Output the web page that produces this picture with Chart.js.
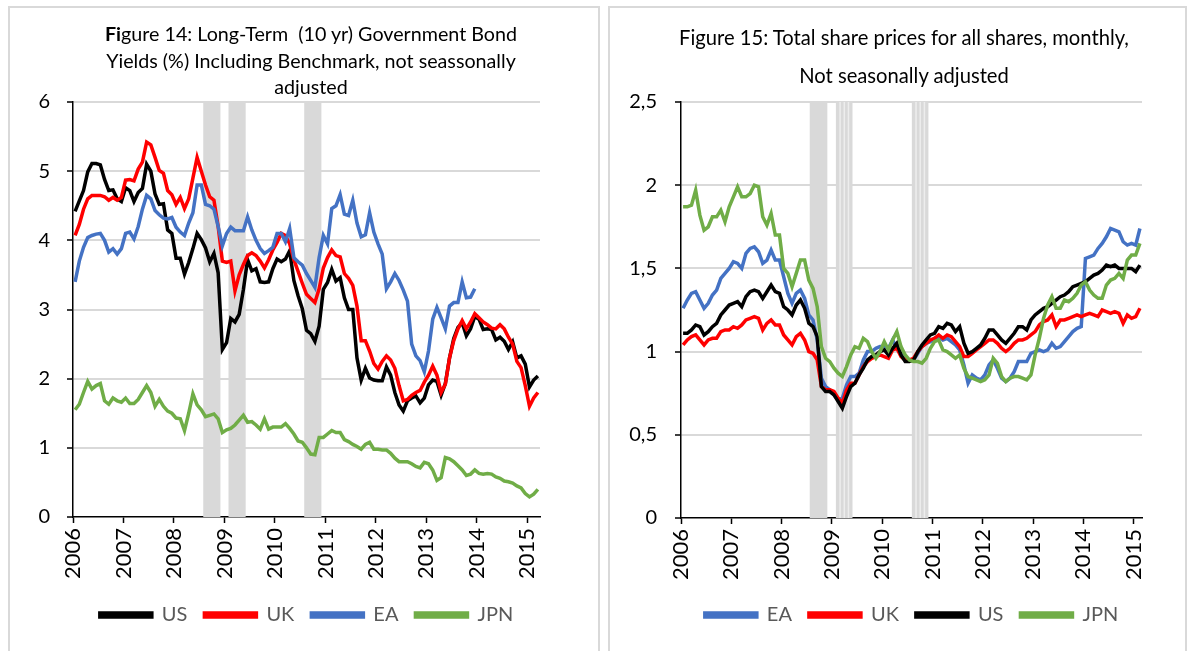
<!DOCTYPE html>
<html>
<head>
<meta charset="utf-8">
<script src="https://cdn.jsdelivr.net/npm/chart.js@4.4.1/dist/chart.umd.min.js"></script>
<style>
  body { margin: 0; width: 1190px; height: 651px; overflow: hidden; position: relative; background: #fff; font-family: Lato, sans-serif; }
  .panel { position: absolute; border: 2px solid #d9d9d9; box-sizing: border-box; }
  .box { position: absolute; top: 0; height: 651px; }
  .title { position: absolute; text-align: center; color: #000; white-space: pre; }
</style>
</head>
<body>
<div class="panel" style="left:8px; top:6px; width:592px; height:700px"></div>
<div class="panel" style="left:608px; top:6px; width:579px; height:700px"></div>
<div class="box" style="left:0; width:600px"><canvas id="bonds"></canvas></div>
<div class="box" style="left:600px; width:590px"><canvas id="shares"></canvas></div>
<div class="title" style="left:61px; top:21px; width:500px; line-height:26.5px; font-size:19.7px"><b>Fi</b>gure 14: Long-Term  (10 yr) Government Bond
Yields (%) Including Benchmark, not seassonally
adjusted</div>
<div class="title" style="left:654px; top:18px; width:500px; line-height:38px; font-size:20.2px">Figure 15: Total share prices for all shares, monthly,
Not seasonally adjusted</div>
<script>
// monthly data, Jan 2006 onwards
const startYear = 2006;
const yearTicks = [2006, 2007, 2008, 2009, 2010, 2011, 2012, 2013, 2014, 2015];

// Figure 14: 10 yr government bond yields (%), Jan 2006 - Mar 2015
const usYield = [4.42,4.57,4.72,4.99,5.11,5.11,5.09,4.88,4.72,4.73,4.60,4.56,
  4.76,4.72,4.56,4.69,4.75,5.10,5.00,4.67,4.52,4.53,4.15,4.10,
  3.74,3.74,3.51,3.68,3.88,4.10,4.01,3.89,3.69,3.81,3.53,2.42,
  2.52,2.87,2.82,2.93,3.29,3.72,3.56,3.59,3.40,3.39,3.40,3.59,
  3.73,3.69,3.73,3.85,3.42,3.20,3.01,2.70,2.65,2.54,2.76,3.29,
  3.39,3.58,3.41,3.46,3.17,3.00,3.00,2.30,1.98,2.15,2.01,1.98,
  1.97,1.97,2.17,2.05,1.80,1.62,1.53,1.68,1.72,1.75,1.65,1.72,
  1.91,1.98,1.96,1.76,1.93,2.30,2.58,2.74,2.81,2.62,2.72,2.90,
  2.86,2.71,2.72,2.71,2.56,2.60,2.54,2.42,2.53,2.30,2.33,2.21,
  1.88,1.98,2.04];
const ukYield = [4.07,4.23,4.45,4.60,4.65,4.65,4.65,4.63,4.58,4.62,4.58,4.62,
  4.87,4.88,4.86,5.03,5.13,5.42,5.38,5.20,5.01,4.97,4.72,4.66,
  4.52,4.62,4.46,4.60,4.90,5.20,5.00,4.80,4.63,4.58,4.20,3.70,
  3.68,3.70,3.27,3.50,3.65,3.78,3.82,3.78,3.70,3.60,3.72,3.86,
  3.97,4.10,4.07,3.95,3.72,3.55,3.38,3.22,3.16,3.10,3.30,3.60,
  3.75,3.86,3.78,3.76,3.52,3.45,3.35,3.05,2.55,2.55,2.40,2.22,
  2.14,2.25,2.33,2.27,2.15,1.90,1.68,1.70,1.76,1.80,1.83,1.95,
  2.05,2.18,2.05,1.80,1.92,2.30,2.55,2.72,2.84,2.72,2.82,2.94,
  2.88,2.82,2.78,2.73,2.72,2.78,2.72,2.60,2.50,2.25,2.16,1.90,
  1.60,1.72,1.80];
const eaYield = [3.40,3.70,3.90,4.04,4.07,4.09,4.10,4.00,3.83,3.88,3.80,3.88,
  4.10,4.12,4.02,4.20,4.45,4.65,4.60,4.43,4.37,4.32,4.31,4.33,
  4.19,4.12,4.07,4.25,4.40,4.80,4.80,4.52,4.50,4.45,4.20,3.92,
  4.10,4.19,4.14,4.14,4.14,4.34,4.15,4.00,3.88,3.81,3.85,3.90,
  4.10,4.10,3.98,4.17,3.75,3.69,3.64,3.52,3.42,3.32,3.75,4.07,
  3.95,4.46,4.50,4.66,4.38,4.36,4.58,4.25,4.05,4.08,4.40,4.12,
  3.95,3.80,3.30,3.40,3.52,3.42,3.28,3.12,2.50,2.33,2.26,2.10,
  2.40,2.86,3.03,2.88,2.72,3.05,3.10,3.10,3.40,3.17,3.18,3.30,
  null,null,null,null,null,null,null,null,null,null,null,null,
  null,null,null];
const jpnYield = [1.55,1.63,1.80,1.96,1.85,1.90,1.93,1.68,1.63,1.72,1.68,1.66,
  1.72,1.64,1.64,1.70,1.80,1.90,1.80,1.60,1.70,1.60,1.53,1.50,
  1.43,1.42,1.25,1.50,1.78,1.62,1.55,1.45,1.47,1.49,1.42,1.22,
  1.26,1.28,1.33,1.40,1.47,1.37,1.38,1.33,1.27,1.42,1.27,1.30,
  1.30,1.30,1.35,1.28,1.20,1.10,1.08,1.00,0.91,0.90,1.15,1.15,
  1.20,1.25,1.22,1.22,1.12,1.09,1.05,1.02,0.98,1.05,1.08,0.98,
  0.98,0.97,0.97,0.92,0.85,0.80,0.80,0.80,0.77,0.73,0.71,0.79,
  0.77,0.68,0.53,0.57,0.86,0.84,0.80,0.74,0.68,0.60,0.62,0.68,
  0.63,0.62,0.63,0.62,0.58,0.56,0.52,0.51,0.49,0.45,0.42,0.34,
  0.29,0.33,0.40];

// Figure 15: total share prices, Jan 2006 - Feb 2015
const eaShares = [1.26,1.31,1.35,1.36,1.31,1.26,1.29,1.34,1.37,1.44,1.47,1.50,
  1.54,1.53,1.50,1.59,1.62,1.63,1.60,1.53,1.55,1.61,1.55,1.55,
  1.45,1.35,1.29,1.35,1.37,1.32,1.22,1.19,1.07,0.84,0.79,0.77,
  0.74,0.71,0.72,0.80,0.85,0.85,0.87,0.95,1.00,1.00,1.02,1.03,
  1.03,1.02,1.07,1.02,0.99,0.96,0.95,0.95,0.99,1.03,1.05,1.06,
  1.08,1.09,1.07,1.08,1.06,1.04,1.01,0.92,0.81,0.86,0.84,0.83,
  0.86,0.92,0.95,0.90,0.84,0.82,0.84,0.88,0.94,0.94,0.94,0.99,
  1.00,1.01,1.00,1.01,1.05,1.02,1.03,1.06,1.09,1.12,1.14,1.15,
  1.56,1.57,1.58,1.62,1.65,1.69,1.74,1.73,1.72,1.66,1.64,1.65,
  1.64,1.74];
const ukShares = [1.04,1.07,1.09,1.10,1.07,1.04,1.07,1.08,1.08,1.12,1.13,1.13,
  1.15,1.14,1.16,1.19,1.20,1.21,1.20,1.13,1.17,1.19,1.16,1.16,
  1.10,1.07,1.04,1.09,1.11,1.07,1.00,0.99,0.95,0.79,0.77,0.77,
  0.76,0.72,0.69,0.77,0.81,0.81,0.86,0.91,0.94,0.96,0.97,0.98,
  0.97,0.96,1.01,1.02,0.97,0.95,0.95,0.96,1.00,1.03,1.05,1.07,
  1.08,1.10,1.08,1.10,1.09,1.06,1.03,0.97,0.97,0.99,1.01,1.03,
  1.05,1.07,1.07,1.05,1.02,1.00,1.02,1.05,1.07,1.07,1.08,1.10,
  1.12,1.16,1.18,1.19,1.22,1.15,1.19,1.19,1.20,1.21,1.22,1.21,
  1.22,1.23,1.22,1.21,1.25,1.24,1.23,1.24,1.23,1.17,1.22,1.20,
  1.21,1.26];
const usShares = [1.11,1.11,1.13,1.16,1.15,1.10,1.12,1.15,1.17,1.22,1.25,1.28,
  1.29,1.30,1.27,1.33,1.36,1.37,1.36,1.32,1.36,1.40,1.36,1.35,
  1.27,1.25,1.22,1.28,1.31,1.26,1.17,1.15,1.09,0.79,0.76,0.76,
  0.74,0.70,0.66,0.73,0.79,0.81,0.86,0.90,0.95,0.97,0.98,1.00,
  1.01,0.98,1.02,1.05,0.98,0.94,0.94,0.95,1.00,1.04,1.07,1.10,
  1.11,1.15,1.14,1.17,1.16,1.12,1.15,1.05,0.99,1.00,1.02,1.04,
  1.08,1.13,1.13,1.10,1.07,1.05,1.08,1.11,1.15,1.15,1.13,1.19,
  1.22,1.24,1.26,1.27,1.29,1.31,1.33,1.34,1.36,1.39,1.40,1.41,
  1.42,1.44,1.46,1.47,1.49,1.52,1.51,1.52,1.50,1.50,1.50,1.50,
  1.48,1.52];
const jpnShares = [1.87,1.87,1.88,1.97,1.82,1.73,1.75,1.81,1.81,1.85,1.78,1.87,
  1.93,1.99,1.93,1.93,1.95,2.00,1.99,1.81,1.76,1.83,1.70,1.70,
  1.50,1.47,1.39,1.47,1.55,1.55,1.43,1.38,1.27,1.03,0.96,0.94,
  0.90,0.87,0.85,0.91,0.98,1.03,1.02,1.08,1.06,1.00,0.96,1.00,
  1.06,1.01,1.07,1.12,1.03,0.98,0.95,0.94,0.94,0.93,0.96,1.02,
  1.06,1.07,1.01,1.00,0.98,0.96,0.98,0.90,0.85,0.84,0.83,0.82,
  0.83,0.86,0.96,0.93,0.85,0.82,0.84,0.85,0.85,0.84,0.83,0.86,
  0.98,1.08,1.20,1.28,1.33,1.26,1.26,1.31,1.30,1.32,1.35,1.40,
  1.42,1.37,1.34,1.32,1.32,1.40,1.43,1.44,1.47,1.44,1.55,1.58,
  1.58,1.65];

// shaded periods (year fractions)
const bondBands = [[2008.58, 2008.92], [2009.08, 2009.42], [2010.58, 2010.92]];
const shareBands = [[2008.56, 2008.91], [2009.08, 2009.41], [2010.59, 2010.92]];
const shareBandsStriped = [false, true, true];

const BLACK = '#000000', RED = '#ff0000', BLUE = '#4472c4', GREEN = '#70ad47';

function toPoints(values) {
  return values.map((v, i) => ({ x: startYear + (i + 0.5) / 12, y: v }));
}

const bandPlugin = {
  id: 'bands',
  beforeDatasetsDraw(chart, args, opts) {
    const { ctx, chartArea } = chart;
    const x = chart.scales.x;
    ctx.save();
    opts.spans.forEach((span, k) => {
      const x0 = x.getPixelForValue(span[0]);
      const x1 = x.getPixelForValue(span[1]);
      ctx.fillStyle = '#d9d9d9';
      ctx.fillRect(x0, chartArea.top, x1 - x0, chartArea.bottom - chartArea.top);
      if (opts.striped && opts.striped[k]) {
        ctx.strokeStyle = '#ededed';
        ctx.lineWidth = 1.5;
        for (let t = span[0] + 1 / 12; t < span[1] - 0.02; t += 1 / 12) {
          const px = x.getPixelForValue(t);
          ctx.beginPath();
          ctx.moveTo(px, chartArea.top);
          ctx.lineTo(px, chartArea.bottom);
          ctx.stroke();
        }
      }
    });
    ctx.restore();
  }
};

function line(label, values, color, order) {
  return {
    label: label,
    data: toPoints(values),
    borderColor: color,
    backgroundColor: color,
    borderWidth: 3.5,
    pointRadius: 0,
    tension: 0,
    spanGaps: false,
    order: order
  };
}

function makeChart(id, datasets, opt) {
  return new Chart(document.getElementById(id), {
    type: 'line',
    data: { datasets: datasets },
    plugins: [bandPlugin],
    options: {
      responsive: true,
      maintainAspectRatio: false,
      animation: false,
      layout: { padding: { top: 102, right: opt.padRight, bottom: 16, left: 0 } },
      scales: {
        x: {
          type: 'linear',
          min: startYear,
          max: opt.xMax,
          afterBuildTicks: (scale) => { scale.ticks = yearTicks.map(v => ({ value: v })); },
          afterFit: (scale) => { scale.height = opt.xHeight; },
          grid: { display: true, drawOnChartArea: false, drawTicks: true, tickLength: 6, tickColor: '#000', tickWidth: 1.5 },
          border: { color: '#000', width: 1.5 },
          ticks: {
            autoSkip: false,
            minRotation: 90,
            maxRotation: 90,
            padding: 5,
            color: '#000',
            font: { family: 'Lato', size: 22 },
            callback: (v) => String(v)
          }
        },
        y: {
          min: 0,
          max: opt.yMax,
          afterFit: (scale) => { scale.width = opt.yWidth; },
          grid: {
            color: (c) => (c.tick && c.tick.value === 0 ? 'rgba(0,0,0,0)' : '#d9d9d9'),
            lineWidth: 2,
            drawTicks: true,
            tickLength: 6,
            tickColor: '#000',
            tickWidth: 1.5
          },
          border: { color: '#000', width: 1.5 },
          ticks: {
            stepSize: opt.yStep,
            padding: opt.yPad,
            color: '#000',
            font: { family: 'Lato', size: 20 },
            callback: (v) => String(v).replace('.', ',')
          }
        }
      },
      plugins: {
        title: { display: false },
        tooltip: { enabled: false },
        bands: { spans: opt.bands, striped: opt.striped },
        legend: {
          position: 'bottom',
          fullSize: false,
          labels: {
            boxWidth: 52,
            boxHeight: 4,
            padding: 17,
            color: '#595959',
            font: { family: 'Lato', size: 20 },
            sort: (a, b) => a.datasetIndex - b.datasetIndex
          }
        }
      }
    }
  });
}

makeChart('bonds', [
  line('US', usYield, BLACK, 4),
  line('UK', ukYield, RED, 3),
  line('EA', eaYield, BLUE, 2),
  line('JPN', jpnYield, GREEN, 1)
], { padRight: 60, xMax: startYear + usYield.length / 12, xHeight: 71, yWidth: 73, yMax: 6, yStep: 1, yPad: 17, bands: bondBands });

makeChart('shares', [
  line('EA', eaShares, BLUE, 4),
  line('UK', ukShares, RED, 3),
  line('US', usShares, BLACK, 2),
  line('JPN', jpnShares, GREEN, 1)
], { padRight: 48, xMax: startYear + eaShares.length / 12, xHeight: 70, yWidth: 81, yMax: 2.5, yStep: 0.5, yPad: 18, bands: shareBands, striped: shareBandsStriped });
</script>
</body>
</html>
